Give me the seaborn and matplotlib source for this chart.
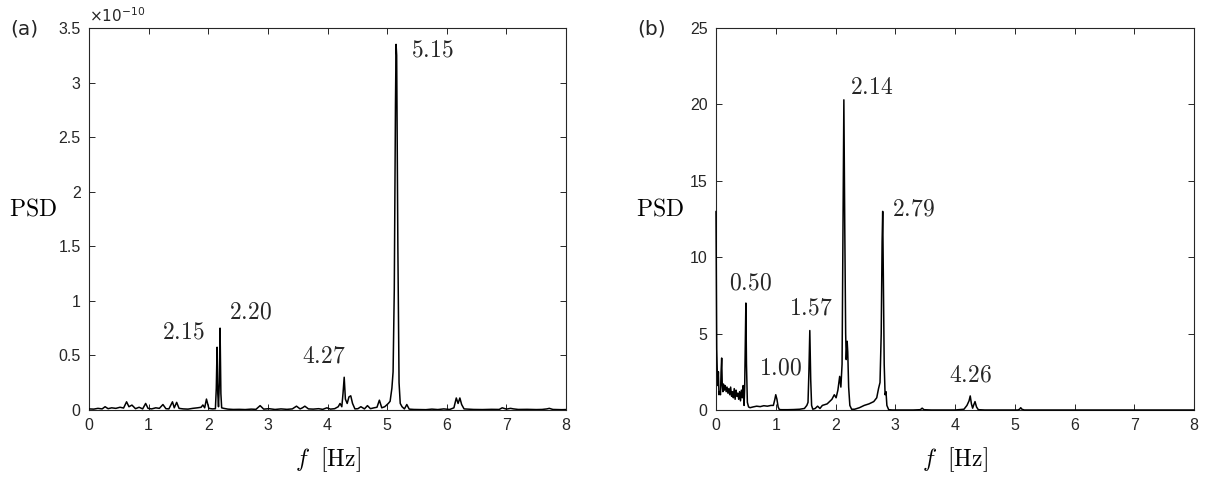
import matplotlib

matplotlib.use("Agg")
import matplotlib.pyplot as plt
import seaborn as sns
from matplotlib.ticker import FuncFormatter

# Panel (a): frequency [Hz] and PSD (in units of 1e-10)
freq_a = [
    0.00, 0.08, 0.15, 0.22, 0.27, 0.32, 0.38, 0.45, 0.52, 0.58,
    0.63, 0.67, 0.72, 0.78, 0.84, 0.90, 0.95, 0.99, 1.05, 1.12,
    1.18, 1.24, 1.29, 1.34, 1.40, 1.43, 1.47, 1.51, 1.58, 1.66,
    1.74, 1.82, 1.88, 1.91, 1.94, 1.97, 2.01, 2.07, 2.12, 2.135,
    2.148, 2.160, 2.172, 2.186, 2.198, 2.212, 2.225, 2.26, 2.33, 2.42,
    2.52, 2.62, 2.72, 2.80, 2.87, 2.93, 3.02, 3.12, 3.22, 3.32,
    3.41, 3.48, 3.54, 3.58, 3.62, 3.68, 3.76, 3.85, 3.92, 3.99,
    4.05, 4.12, 4.18, 4.21, 4.24, 4.26, 4.28, 4.30, 4.33, 4.36,
    4.39, 4.42, 4.46, 4.51, 4.56, 4.62, 4.67, 4.72, 4.78, 4.83,
    4.87, 4.91, 4.96, 5.02, 5.05, 5.08, 5.10, 5.12, 5.14, 5.15,
    5.16, 5.18, 5.20, 5.22, 5.25, 5.29, 5.33, 5.37, 5.45, 5.55,
    5.65, 5.75, 5.85, 5.95, 6.05, 6.12, 6.16, 6.19, 6.22, 6.25,
    6.29, 6.35, 6.45, 6.60, 6.75, 6.88, 6.93, 7.00, 7.07, 7.12,
    7.20, 7.35, 7.50, 7.60, 7.68, 7.72, 7.78, 7.85, 7.93, 8.00,
]
psd_a = [
    0.010, 0.008, 0.015, 0.010, 0.030, 0.012, 0.020, 0.015, 0.025, 0.018,
    0.075, 0.030, 0.045, 0.012, 0.025, 0.010, 0.060, 0.015, 0.010, 0.020,
    0.015, 0.050, 0.012, 0.010, 0.075, 0.020, 0.070, 0.015, 0.010, 0.008,
    0.015, 0.020, 0.025, 0.046, 0.020, 0.100, 0.015, 0.010, 0.012, 0.200,
    0.575, 0.150, 0.030, 0.250, 0.750, 0.150, 0.020, 0.015, 0.008, 0.005,
    0.006, 0.004, 0.008, 0.006, 0.040, 0.008, 0.012, 0.005, 0.010, 0.006,
    0.010, 0.035, 0.010, 0.020, 0.035, 0.010, 0.008, 0.012, 0.006, 0.020,
    0.008, 0.012, 0.030, 0.060, 0.030, 0.150, 0.300, 0.100, 0.060, 0.120,
    0.130, 0.060, 0.010, 0.012, 0.030, 0.010, 0.040, 0.012, 0.020, 0.025,
    0.090, 0.020, 0.030, 0.060, 0.080, 0.200, 0.350, 1.100, 2.800, 3.350,
    3.250, 1.500, 0.250, 0.060, 0.030, 0.010, 0.050, 0.008, 0.005, 0.004,
    0.003, 0.008, 0.004, 0.010, 0.005, 0.020, 0.110, 0.060, 0.110, 0.050,
    0.010, 0.008, 0.005, 0.004, 0.006, 0.005, 0.020, 0.008, 0.015, 0.010,
    0.005, 0.006, 0.004, 0.005, 0.010, 0.015, 0.005, 0.004, 0.003, 0.004,
]

# Panel (b): frequency [Hz] and PSD
freq_b = [
    0.000, 0.005, 0.012, 0.020, 0.030, 0.040, 0.050, 0.060, 0.075, 0.085,
    0.095, 0.105, 0.115, 0.125, 0.140, 0.155, 0.170, 0.185, 0.200, 0.215,
    0.230, 0.245, 0.260, 0.275, 0.290, 0.305, 0.320, 0.335, 0.350, 0.365,
    0.380, 0.395, 0.410, 0.425, 0.440, 0.455, 0.470, 0.480, 0.490, 0.500,
    0.510, 0.525, 0.545, 0.570, 0.620, 0.680, 0.740, 0.800, 0.860, 0.920,
    0.960, 0.985, 1.000, 1.020, 1.040, 1.060, 1.100, 1.200, 1.300, 1.400,
    1.480, 1.520, 1.540, 1.555, 1.570, 1.585, 1.600, 1.620, 1.660, 1.700,
    1.740, 1.780, 1.820, 1.860, 1.900, 1.940, 1.980, 2.010, 2.040, 2.070,
    2.090, 2.110, 2.125, 2.140, 2.155, 2.170, 2.180, 2.195, 2.205, 2.220,
    2.240, 2.270, 2.320, 2.400, 2.480, 2.560, 2.640, 2.690, 2.720, 2.745,
    2.765, 2.780, 2.790, 2.800, 2.815, 2.830, 2.845, 2.860, 2.890, 2.950,
    3.100, 3.300, 3.420, 3.450, 3.480, 3.600, 3.800, 4.000, 4.150, 4.200,
    4.235, 4.255, 4.275, 4.295, 4.315, 4.335, 4.360, 4.390, 4.500, 4.700,
    4.900, 5.050, 5.080, 5.100, 5.120, 5.160, 5.300, 6.000, 7.000, 8.000,
]
psd_b = [
    13.0, 9.0, 4.0, 2.7, 1.6, 2.5, 1.0, 1.2, 1.0, 2.5,
    3.4, 1.6, 1.2, 1.7, 1.3, 1.6, 1.2, 1.5, 1.1, 1.4,
    1.0, 1.5, 0.9, 1.2, 0.8, 1.4, 0.7, 1.3, 0.9, 1.1,
    0.7, 1.2, 0.6, 1.3, 0.8, 1.6, 0.3, 1.5, 4.5, 7.0,
    3.0, 0.5, 0.2, 0.15, 0.2, 0.25, 0.22, 0.28, 0.25, 0.3,
    0.3, 0.7, 1.0, 0.7, 0.2, 0.03, 0.02, 0.02, 0.03, 0.05,
    0.10, 0.30, 0.50, 2.5, 5.2, 2.0, 0.3, 0.05, 0.10, 0.25,
    0.10, 0.30, 0.35, 0.40, 0.55, 0.70, 1.0, 0.8, 1.3, 2.2,
    1.5, 3.0, 12.0, 20.3, 12.0, 5.0, 3.3, 4.5, 3.8, 1.5,
    0.3, 0.05, 0.05, 0.15, 0.30, 0.40, 0.55, 0.80, 1.4, 1.8,
    5.0, 11.0, 13.0, 9.0, 3.0, 1.0, 1.2, 0.3, 0.02, 0.0,
    0.0, 0.0, 0.02, 0.12, 0.02, 0.0, 0.0, 0.0, 0.05, 0.3,
    0.6, 0.92, 0.4, 0.12, 0.35, 0.55, 0.2, 0.02, 0.0, 0.0,
    0.0, 0.0, 0.05, 0.15, 0.05, 0.0, 0.0, 0.0, 0.0, 0.0,
]

# peak labels: text, x, y (data coords, text centre)
peak_labels_a = [("2.15", 1.58, 0.71), ("2.20", 2.70, 0.89),
                 ("4.27", 3.93, 0.49), ("5.15", 5.76, 3.29)]
peak_labels_b = [("0.50", 0.57, 8.29), ("1.00", 1.08, 2.73), ("1.57", 1.59, 6.65),
                 ("2.14", 2.61, 21.05), ("2.79", 3.31, 13.09), ("4.26", 4.26, 2.29)]

x_ticks = [0, 1, 2, 3, 4, 5, 6, 7, 8]
y_ticks_a = [0, 0.5, 1, 1.5, 2, 2.5, 3, 3.5]
y_ticks_b = [0, 5, 10, 15, 20, 25]

sns.set_theme(style="white")
plt.rcParams["font.family"] = ["Liberation Sans", "DejaVu Sans"]
plt.rcParams["mathtext.fontset"] = "cm"

AX_COLOR = "#262626"
W, H = 1217, 478

fig = plt.figure(figsize=(W / 100, H / 100), dpi=100)
ax_a = fig.add_axes([89 / W, 68 / H, 477 / W, 382 / H])
ax_b = fig.add_axes([716 / W, 68 / H, 478 / W, 382 / H])


def style_axis(ax, y_ticks):
    ax.set_xlim(0, 8)
    ax.set_ylim(y_ticks[0], y_ticks[-1])
    ax.set_xticks(x_ticks)
    ax.set_yticks(y_ticks)
    ax.yaxis.set_major_formatter(FuncFormatter(lambda v, _: f"{v:g}"))
    ax.tick_params(direction="in", length=4, width=0.7, colors=AX_COLOR,
                   labelsize=11.5, top=True, right=True, bottom=True, left=True,
                   labeltop=False, labelright=False, pad=6)
    for spine in ax.spines.values():
        spine.set_color(AX_COLOR)
        spine.set_linewidth(0.8)
    ax.set_xlabel(r"$f\ \ [\mathrm{Hz}]$", fontsize=17, color="black", va="center")
    ax.xaxis.set_label_coords(0.5, -0.13)
    ax.set_ylabel(r"$\mathrm{PSD}$", fontsize=17, rotation=0, color="black",
                  ha="center", va="center")
    ax.yaxis.set_label_coords(-0.117, 0.525)


sns.lineplot(x=freq_a, y=psd_a, ax=ax_a, color="black", linewidth=1.1,
             sort=False, estimator=None, errorbar=None, zorder=3)
sns.lineplot(x=freq_b, y=psd_b, ax=ax_b, color="black", linewidth=1.1,
             sort=False, estimator=None, errorbar=None, zorder=3)
# the f = 0 spike sits on the left spine; don't clip it away
ax_b.lines[-1].set_clip_on(False)

style_axis(ax_a, y_ticks_a)
style_axis(ax_b, y_ticks_b)

for label, fx, fy in peak_labels_a:
    ax_a.text(fx, fy, f"${label}$", fontsize=17, ha="center", va="center")
for label, fx, fy in peak_labels_b:
    ax_b.text(fx, fy, f"${label}$", fontsize=17, ha="center", va="center")

ax_a.text(0.0, 1.008, r"$\times10^{-10}$", transform=ax_a.transAxes,
          fontsize=11, color=AX_COLOR, ha="left", va="bottom",
          math_fontfamily="dejavusans")

fig.text(24 / W, 1 - 29 / H, "(a)", fontsize=14.5, ha="center", va="center",
         family=["DejaVu Sans"])
fig.text(652 / W, 1 - 29 / H, "(b)", fontsize=14.5, ha="center", va="center",
         family=["DejaVu Sans"])

fig.savefig("out.png", dpi=100)
plt.close(fig)
